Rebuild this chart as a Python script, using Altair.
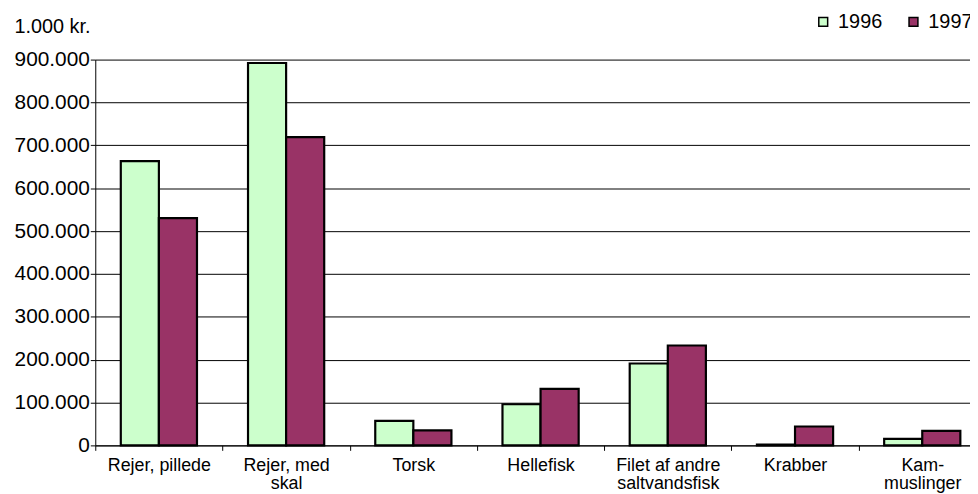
import altair as alt
import pandas as pd

categories = ["Rejer, pillede", "Rejer, med\nskal", "Torsk", "Hellefisk",
              "Filet af andre\nsaltvandsfisk", "Krabber", "Kam-\nmuslinger"]
years = ["1996", "1997"]
v1996 = [663000, 892000, 57000, 96000, 191000, 2000, 15000]
v1997 = [530000, 719000, 35000, 132000, 233000, 44000, 34000]
colors = ["#ccffcc", "#993366"]

rows = []
for c, a, b in zip(categories, v1996, v1997):
    rows.append({"cat": c, "year": "1996", "value": a})
    rows.append({"cat": c, "year": "1997", "value": b})
df = pd.DataFrame(rows)

FONT = "Liberation Sans"

chart = alt.Chart(df).mark_bar(stroke="black", strokeWidth=2.2).encode(
    x=alt.X("cat:N", sort=categories, title=None,
            scale=alt.Scale(paddingInner=0, paddingOuter=0, range=[0, 898]),
            axis=alt.Axis(tickBand="extent", labelAngle=0, grid=False,
                          labelExpr="split(datum.label, '\\n')",
                          labelFontSize=18, labelLineHeight=18,
                          labelPadding=6, tickSize=5, labelColor="black",
                          domainColor="black", tickColor="black",
                          labelFont=FONT)),
    xOffset=alt.XOffset("year:N", sort=years,
                        scale=alt.Scale(paddingInner=0, paddingOuter=0.67)),
    y=alt.Y("value:Q", title="1.000 kr.",
            scale=alt.Scale(domain=[0, 900000], nice=False),
            axis=alt.Axis(values=[0, 100000, 200000, 300000, 400000, 500000,
                                  600000, 700000, 800000, 900000],
                          labelExpr="replace(format(datum.value, ',d'), /,/g, '.')",
                          labelFontSize=21, labelFont=FONT, labelColor="black",
                          labelPadding=1, tickSize=5, tickColor="black",
                          domainColor="black", gridColor="black",
                          gridOpacity=1, gridWidth=1,
                          titleAngle=0, titleAlign="left", titleBaseline="alphabetic",
                          titleX=-82, titleY=-27, titleFontSize=20,
                          titleFontWeight="normal", titleFont=FONT,
                          titleColor="black")),
    color=alt.Color("year:N", sort=years, title=None,
                    scale=alt.Scale(domain=years, range=colors),
                    legend=alt.Legend(orient="none", legendX=724, legendY=-48,
                                      direction="horizontal", symbolType="square",
                                      symbolSize=80, symbolStrokeColor="black",
                                      symbolStrokeWidth=1.5, labelFontSize=20,
                                      labelFont=FONT, labelColor="black",
                                      labelOffset=5, columnPadding=21)),
).properties(
    width=882, height=389,
    autosize=alt.AutoSizeParams(type="none"),
    padding={"left": 88, "top": 50, "right": 0, "bottom": 47},
).configure_view(stroke=None)

chart.save("out.html", embed_options={"renderer": "svg", "actions": False})
